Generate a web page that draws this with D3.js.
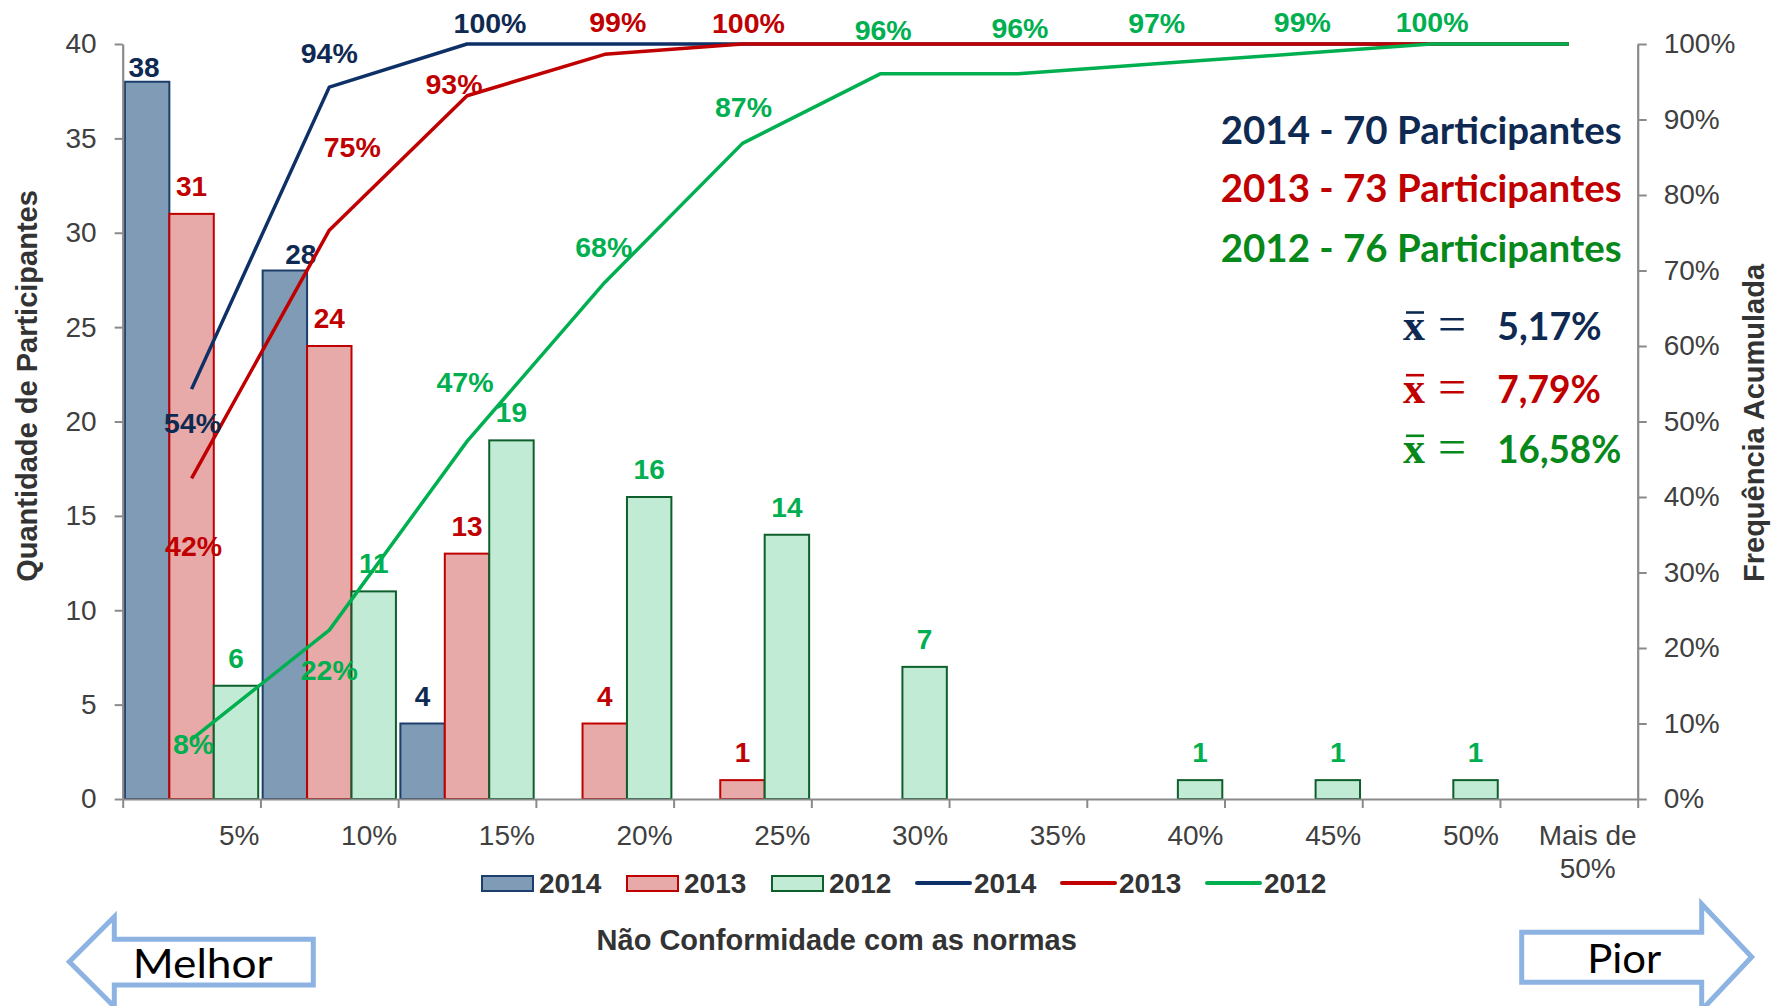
<!DOCTYPE html>
<html><head><meta charset="utf-8">
<script src="https://cdn.jsdelivr.net/npm/d3@7"></script>
<style>html,body{margin:0;padding:0;background:#fff;}svg{display:block}</style>
</head><body><svg id="c" width="1779" height="1006"></svg>
<script>
// ---------------- DATA ----------------
const categories = ["5%","10%","15%","20%","25%","30%","35%","40%","45%","50%","Mais de 50%"];
const seriesNames = ["2014","2013","2012"];
const counts2014 = [38,28,4,0,0,0,0,0,0,0,0];
const counts2013 = [31,24,13,4,1,0,0,0,0,0,0];
const counts2012 = [6,11,19,16,14,7,0,1,1,1,0];
const cum2014 = [54.29,94.29,100,100,100,100,100,100,100,100,100];
const cum2013 = [42.47,75.34,93.15,98.63,100,100,100,100,100,100,100];
const cum2012 = [7.89,22.37,47.37,68.42,86.84,96.05,96.05,97.37,98.68,100,100];
const cumLabels2014 = ["54%","94%","100%"];
const cumLabels2013 = ["42%","75%","93%","99%","100%"];
const cumLabels2012 = ["8%","22%","47%","68%","87%","96%","96%","97%","99%","100%"];
const leftTicks = [0,5,10,15,20,25,30,35,40];
const rightTicks = [0,10,20,30,40,50,60,70,80,90,100];
const participantTexts = ["2014 - 70 Participantes","2013 - 73 Participantes","2012 - 76 Participantes"];
const meanTexts = ["5,17%","7,79%","16,58%"];
const legendLabels = ["2014","2013","2012","2014","2013","2012"];

// ---------------- LAYOUT / STYLE ----------------
const X0 = 122.7, X1 = 1637.7, Y0 = 44, Y1 = 799;
const navy = "#0f2a52", navyLine = "#0d3166", red = "#c00000", green = "#00b050", darkGreen = "#07881a";
const style = {
  "2014": {fill:"#7f9bb5", stroke:"#1c3e6c", text:navy, line:navyLine},
  "2013": {fill:"#e8a9a9", stroke:"#c00000", text:red, line:red},
  "2012": {fill:"#c2ebd5", stroke:"#0d5f2b", text:green, line:green}
};
// label offsets (dx, baseline dy) relative to the line point
const cumOffsets = {
  "2014": [[1,44],[0,-24],[23,-11]],
  "2013": [[2,78],[23,-73],[-13,-2],[13,-22],[6,-11]],
  "2012": [[2,15],[0,50],[-2,-49],[-1,-25],[1,-26],[3,-34],[2,-36],[1,-31],[9,-22],[1,-12]]
};
const barLabelGap = 18;
const barLabelOverride = {"2014-0":{dx:-3,gap:5}, "2014-1":{dx:16,gap:7}};

const SANS = "'Liberation Sans', Arial, sans-serif";
const svg = d3.select("#c");

const counts = {"2014":counts2014,"2013":counts2013,"2012":counts2012};
const cums = {"2014":cum2014,"2013":cum2013,"2012":cum2012};
const cumLabels = {"2014":cumLabels2014,"2013":cumLabels2013,"2012":cumLabels2012};

const x = d3.scaleBand().domain(categories).range([X0, X1]).padding(0);
const xs = d3.scaleBand().domain(seriesNames).range([0, x.bandwidth()]).paddingInner(0).paddingOuter(0.05);
const xEdge = d3.scaleLinear().domain([0, categories.length]).range([X0, X1]);
const yL = d3.scaleLinear().domain([0,40]).range([Y1, Y0]);
const yR = d3.scaleLinear().domain([0,100]).range([Y1, Y0]);

// bars
seriesNames.forEach(s => {
  const g = svg.append("g");
  g.selectAll("rect").data(counts[s].map((v,i)=>({v,i}))).join("rect")
    .filter(d => d.v > 0)
    .attr("x", d => x(categories[d.i]) + xs(s))
    .attr("y", d => yL(d.v))
    .attr("width", xs.bandwidth())
    .attr("height", d => yL(0) - yL(d.v))
    .attr("fill", style[s].fill)
    .attr("stroke", style[s].stroke)
    .attr("stroke-width", 2);
});

// axes
const axisColor = "#8a8a8a", tickText = "#404040";
function styleAxis(g){
  g.selectAll("path.domain").attr("stroke", axisColor).attr("stroke-width", 2.2);
  g.selectAll(".tick line").attr("stroke", axisColor).attr("stroke-width", 2);
  g.selectAll(".tick text").attr("fill", tickText).style("font-family", SANS).style("font-size","28px");
}
svg.append("g").attr("transform", `translate(${X0},0)`)
  .call(d3.axisLeft(yL).tickValues(leftTicks).tickSize(8).tickSizeOuter(0).tickPadding(18))
  .call(styleAxis);
svg.append("g").attr("transform", `translate(${X1},0)`)
  .call(d3.axisRight(yR).tickValues(rightTicks).tickFormat(d => d + "%").tickSize(9).tickSizeOuter(0).tickPadding(17))
  .call(styleAxis);
svg.append("g").attr("transform", `translate(0,${Y1})`)
  .call(d3.axisBottom(xEdge).tickValues(d3.range(categories.length + 1)).tickFormat("").tickSize(9).tickSizeOuter(0))
  .call(styleAxis);

// x category labels (block right-aligned at band end, lines centered)
categories.forEach((c, i) => {
  const parts = c === "Mais de 50%" ? ["Mais de","50%"] : [c];
  const t = svg.append("text").attr("fill", tickText).style("font-family", SANS).style("font-size","28px")
    .attr("text-anchor","middle");
  const tsp = parts.map((p, k) => t.append("tspan").attr("y", 845 + k*33.3).text(p));
  const w = d3.max(tsp, s => s.node().getComputedTextLength());
  const cx = x(c) + x.bandwidth() - 1 - w/2;
  tsp.forEach(s => s.attr("x", cx));
});

// bar labels
seriesNames.forEach(s => {
  counts[s].forEach((v, i) => {
    if (v <= 0) return;
    const o = barLabelOverride[s + "-" + i] || {dx:0, gap:barLabelGap};
    svg.append("text")
      .attr("x", x(categories[i]) + xs(s) + xs.bandwidth()/2 + o.dx)
      .attr("y", yL(v) - o.gap)
      .attr("text-anchor","middle")
      .attr("fill", style[s].text)
      .style("font-family", SANS).style("font-size","28px").style("font-weight","bold")
      .text(v);
  });
});

// cumulative lines
const line = d3.line().x((d,i) => x(categories[i]) + x.bandwidth()/2).y(d => yR(d));
seriesNames.forEach(s => {
  svg.append("path").datum(cums[s]).attr("d", line)
    .attr("fill","none").attr("stroke", style[s].line).attr("stroke-width", 3.5)
    .attr("stroke-linejoin","round");
});
seriesNames.forEach(s => {
  cumLabels[s].forEach((lab, i) => {
    const [dx, dy] = cumOffsets[s][i];
    svg.append("text")
      .attr("x", x(categories[i]) + x.bandwidth()/2 + dx)
      .attr("y", yR(cums[s][i]) + dy)
      .attr("text-anchor","middle")
      .attr("fill", style[s].text)
      .style("font-family", SANS).style("font-size","28.5px").style("font-weight","bold")
      .text(lab);
  });
});

// axis titles
svg.append("text").attr("transform","translate(37,386) rotate(-90)").attr("text-anchor","middle")
  .attr("fill","#333").style("font-family",SANS).style("font-size","29px").style("font-weight","bold")
  .text("Quantidade de Participantes");
svg.append("text").attr("transform","translate(1764,423) rotate(-90)").attr("text-anchor","middle")
  .attr("fill","#333").style("font-family",SANS).style("font-size","29px").style("font-weight","bold")
  .text("Frequência Acumulada");
svg.append("text").attr("x",836.7).attr("y",950).attr("text-anchor","middle")
  .attr("fill","#333").style("font-family",SANS).style("font-size","29px").style("font-weight","bold")
  .text("Não Conformidade com as normas");

// legend
const legendKinds = ["rect","rect","rect","line","line","line"];
legendLabels.forEach((lab, i) => {
  const lx = 482 + 145*i, s = lab;
  if (legendKinds[i] === "rect") {
    svg.append("rect").attr("x", lx).attr("y", 876).attr("width", 51).attr("height", 15)
      .attr("fill", style[s].fill).attr("stroke", style[s].stroke).attr("stroke-width", 2);
  } else {
    svg.append("line").attr("x1", lx).attr("x2", lx + 53).attr("y1", 883).attr("y2", 883)
      .attr("stroke", style[s].line).attr("stroke-width", 4).attr("stroke-linecap","round");
  }
  svg.append("text").attr("x", lx + 57).attr("y", 893.3).attr("fill","#333")
    .style("font-family",SANS).style("font-size","28px").style("font-weight","bold").text(lab);
});

// participant annotations
const annColors = [navy, red, darkGreen];
const annBase = [144, 201.7, 261.7];
participantTexts.forEach((t, i) => {
  svg.append("text").attr("x", 1621.7).attr("y", annBase[i]).attr("text-anchor","end")
    .attr("fill", annColors[i]).style("font-family","Lato, 'Open Sans', sans-serif")
    .style("font-size","38px").style("font-weight","bold")
    .attr("textLength", 401).attr("lengthAdjust","spacingAndGlyphs").text(t);
});
// mean annotations
const meanBase = [340, 402.7, 463.3];
const meanWidths = [104.4, 103.7, 124];
meanTexts.forEach((t, i) => {
  const c = annColors[i], b = meanBase[i];
  svg.append("text").attr("x", 1403).attr("y", b).attr("fill", c)
    .style("font-family","'Liberation Serif', 'DejaVu Serif', serif").style("font-size","44px").style("font-weight","bold")
    .text("x");
  svg.append("line").attr("x1", 1406).attr("x2", 1424).attr("y1", b - 27.5).attr("y2", b - 27.5)
    .attr("stroke", c).attr("stroke-width", 2.6);
  svg.append("text").attr("x", 1438).attr("y", b + 1).attr("fill", c)
    .style("font-family","'Liberation Serif', serif").style("font-size","50px")
    .text("=");
  svg.append("text").attr("x", 1497.3).attr("y", b).attr("fill", c)
    .style("font-family","Lato, 'Open Sans', sans-serif").style("font-size","38px").style("font-weight","bold")
    .attr("textLength", meanWidths[i]).attr("lengthAdjust","spacingAndGlyphs").text(t);
});

// arrows
const arrowStroke = "#8db3e2";
svg.append("path").attr("d","M69.3,961.7 L114.3,916.7 L114.3,939.3 L313.3,939.3 L313.3,985 L114.3,985 L114.3,1006.7 Z")
  .attr("fill","#fff").attr("stroke",arrowStroke).attr("stroke-width",5).attr("stroke-linejoin","miter");
svg.append("text").attr("x",132.7).attr("y",977.7).attr("fill","#000")
  .style("font-family","Lato, 'Open Sans', sans-serif").style("font-size","41px")
  .attr("textLength",140).attr("lengthAdjust","spacingAndGlyphs").text("Melhor");
svg.append("path").attr("d","M1521.7,932.3 L1701.7,932.3 L1701.7,904 L1751.7,957 L1701.7,1010 L1701.7,982.3 L1521.7,982.3 Z")
  .attr("fill","#fff").attr("stroke",arrowStroke).attr("stroke-width",5).attr("stroke-linejoin","miter");
svg.append("text").attr("x",1587.3).attr("y",972.7).attr("fill","#000")
  .style("font-family","Lato, 'Open Sans', sans-serif").style("font-size","41px")
  .attr("textLength",74).attr("lengthAdjust","spacingAndGlyphs").text("Pior");
</script></body></html>
